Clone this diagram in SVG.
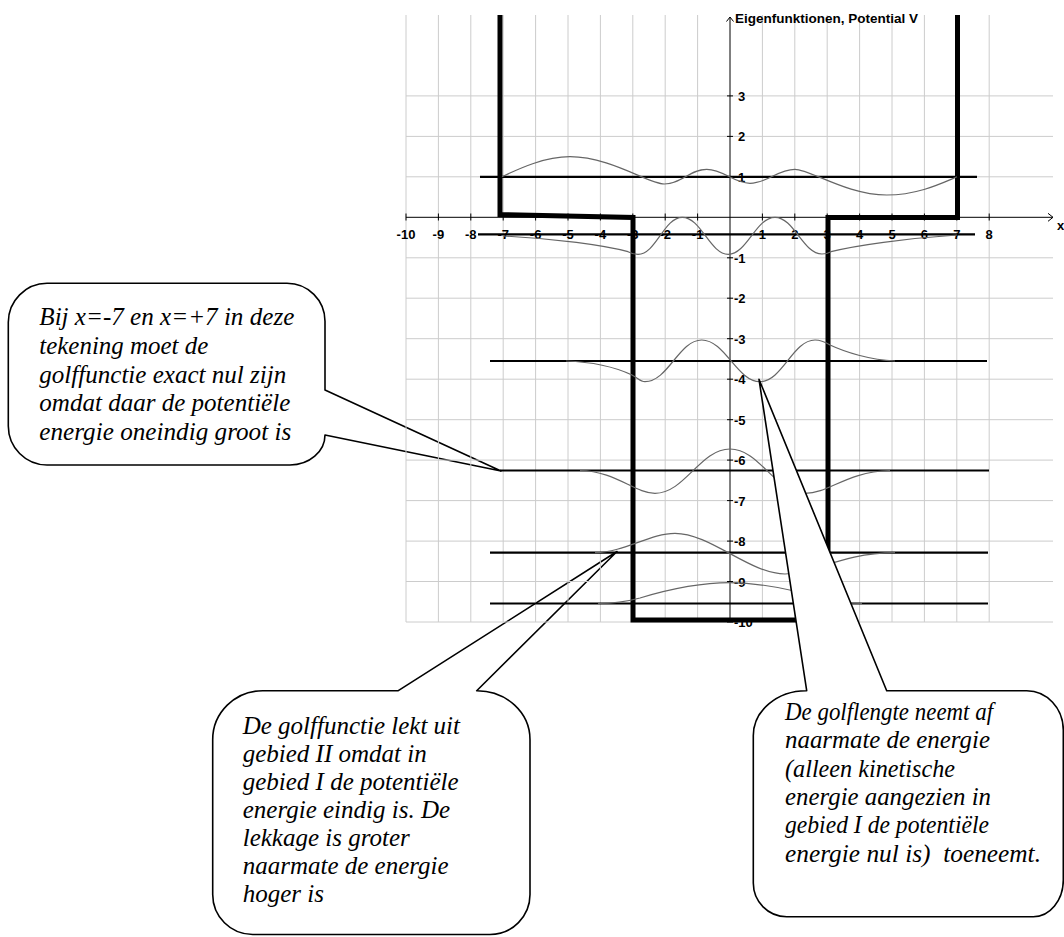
<svg xmlns="http://www.w3.org/2000/svg" width="1064" height="937" viewBox="0 0 1064 937">
<style>
.grid line{stroke:#cccccc;stroke-width:1}
.ax{stroke:#000;stroke-width:1;fill:none}
.num{font-family:"Liberation Sans",Arial,sans-serif;font-weight:bold;font-size:13px;fill:#000}
.xl{text-anchor:middle}
.pot{stroke:#000;stroke-width:5;fill:none;stroke-linejoin:miter}
.lvl{stroke:#000;stroke-width:2.2}
.wf{stroke:#666;stroke-width:1.2;fill:none}
.call{fill:#fff;stroke:#000;stroke-width:1.6;stroke-linejoin:round}
.ct{font-family:"Liberation Serif","Times New Roman",serif;font-style:italic;font-size:25px;fill:#000;white-space:pre}
</style>
<rect width="1064" height="937" fill="#fff"/>

<g id="callout-1">
<path class="call" d="M47 283.3 H287 A38 38 0 0 1 325 321.3 V390 L501 471 L325 435 A35 30 0 0 1 290 465 H47 A39 39 0 0 1 8.3 426 V322.3 A39 39 0 0 1 47 283.3 Z"/>
<text class="ct" x="39.3" y="325" textLength="255" lengthAdjust="spacingAndGlyphs">Bij x=-7 en x=+7 in deze</text>
<text class="ct" x="39.3" y="353.7" textLength="169" lengthAdjust="spacingAndGlyphs">tekening moet de</text>
<text class="ct" x="39.3" y="382.5" textLength="247" lengthAdjust="spacingAndGlyphs">golffunctie exact nul zijn</text>
<text class="ct" x="39.3" y="411.2" textLength="251" lengthAdjust="spacingAndGlyphs">omdat daar de potentiële</text>
<text class="ct" x="39.3" y="440" textLength="252" lengthAdjust="spacingAndGlyphs">energie oneindig groot is</text>
</g>

<g id="callout-2">
<path class="call" d="M212.7 740 A50 49 0 0 1 262.7 690.7 H398.3 L617 551.5 L476.7 690.7 A53 49 0 0 1 530 739.7 V894 A40 40 0 0 1 490 934.5 H252.7 A40 40 0 0 1 212.7 894.5 Z"/>
<text class="ct" x="242.7" y="734.3">De golffunctie lekt uit</text>
<text class="ct" x="242.7" y="762.2">gebied II omdat in</text>
<text class="ct" x="242.7" y="790.1">gebied I de potentiële</text>
<text class="ct" x="242.7" y="818">energie eindig is. De</text>
<text class="ct" x="242.7" y="845.9">lekkage is groter</text>
<text class="ct" x="242.7" y="873.8">naarmate de energie</text>
<text class="ct" x="242.7" y="901.7">hoger is</text>
</g>

<g id="grid" class="grid">
<line x1="406" y1="15" x2="406" y2="622"/>
<line x1="438.4" y1="15" x2="438.4" y2="622"/>
<line x1="470.8" y1="15" x2="470.8" y2="622"/>
<line x1="503.2" y1="15" x2="503.2" y2="622"/>
<line x1="535.6" y1="15" x2="535.6" y2="622"/>
<line x1="568" y1="15" x2="568" y2="622"/>
<line x1="600.4" y1="15" x2="600.4" y2="622"/>
<line x1="632.8" y1="15" x2="632.8" y2="622"/>
<line x1="665.2" y1="15" x2="665.2" y2="622"/>
<line x1="697.6" y1="15" x2="697.6" y2="622"/>
<line x1="762.4" y1="15" x2="762.4" y2="622"/>
<line x1="794.8" y1="15" x2="794.8" y2="622"/>
<line x1="827.2" y1="15" x2="827.2" y2="622"/>
<line x1="859.6" y1="15" x2="859.6" y2="622"/>
<line x1="892" y1="15" x2="892" y2="622"/>
<line x1="924.4" y1="15" x2="924.4" y2="622"/>
<line x1="956.8" y1="15" x2="956.8" y2="622"/>
<line x1="989.2" y1="15" x2="989.2" y2="622"/>
<line x1="406" y1="95.9" x2="1053" y2="95.9"/>
<line x1="406" y1="136.4" x2="1053" y2="136.4"/>
<line x1="406" y1="176.8" x2="1053" y2="176.8"/>
<line x1="406" y1="257.8" x2="1053" y2="257.8"/>
<line x1="406" y1="298.2" x2="1053" y2="298.2"/>
<line x1="406" y1="338.7" x2="1053" y2="338.7"/>
<line x1="406" y1="379.2" x2="1053" y2="379.2"/>
<line x1="406" y1="419.7" x2="1053" y2="419.7"/>
<line x1="406" y1="460.1" x2="1053" y2="460.1"/>
<line x1="406" y1="500.6" x2="1053" y2="500.6"/>
<line x1="406" y1="541.1" x2="1053" y2="541.1"/>
<line x1="406" y1="581.5" x2="1053" y2="581.5"/>
<line x1="406" y1="622" x2="1053" y2="622"/>
</g>

<g id="axes">
<line class="ax" x1="406" y1="217.3" x2="1053" y2="217.3"/>
<polyline class="ax" points="1048,213.3 1053,217.3 1048,221.3"/>
<line class="ax" x1="730" y1="17" x2="730" y2="622"/>
<polyline class="ax" points="726.5,21.5 730,17 733.5,21.5"/>
<path class="ax" d="M406 213.5V220.5M438.4 213.5V220.5M470.8 213.5V220.5M503.2 213.5V220.5M535.6 213.5V220.5M568 213.5V220.5M600.4 213.5V220.5M632.8 213.5V220.5M665.2 213.5V220.5M697.6 213.5V220.5M762.4 213.5V220.5M794.8 213.5V220.5M827.2 213.5V220.5M859.6 213.5V220.5M892 213.5V220.5M924.4 213.5V220.5M956.8 213.5V220.5M989.2 213.5V220.5"/>
<path class="ax" d="M727 95.9H733M727 136.4H733M727 176.8H733M727 257.8H733M727 298.2H733M727 338.7H733M727 379.2H733M727 419.7H733M727 460.1H733M727 500.6H733M727 541.1H733M727 581.5H733M727 622H733"/>
<text class="num" x="735" y="22.5" textLength="183" lengthAdjust="spacingAndGlyphs">Eigenfunktionen, Potential V</text>
<text class="num" x="1057" y="230">x</text>
<g class="num xl">
<text x="406" y="239">-10</text>
<text x="438.4" y="239">-9</text>
<text x="470.8" y="239">-8</text>
<text x="503.2" y="239">-7</text>
<text x="535.6" y="239">-6</text>
<text x="568" y="239">-5</text>
<text x="600.4" y="239">-4</text>
<text x="632.8" y="239">-3</text>
<text x="665.2" y="239">-2</text>
<text x="697.6" y="239">-1</text>
<text x="762.4" y="239">1</text>
<text x="794.8" y="239">2</text>
<text x="827.2" y="239">3</text>
<text x="859.6" y="239">4</text>
<text x="892" y="239">5</text>
<text x="924.4" y="239">6</text>
<text x="956.8" y="239">7</text>
<text x="989.2" y="239">8</text>
</g>
<g class="num">
<text x="738" y="100.9">3</text>
<text x="738" y="141.4">2</text>
<text x="738" y="181.8">1</text>
<text x="734" y="262.8">-1</text>
<text x="734" y="303.2">-2</text>
<text x="734" y="343.7">-3</text>
<text x="734" y="384.2">-4</text>
<text x="734" y="424.7">-5</text>
<text x="734" y="465.1">-6</text>
<text x="734" y="505.6">-7</text>
<text x="734" y="546.1">-8</text>
<text x="734" y="586.5">-9</text>
<text x="734" y="627">-10</text>
</g>
</g>

<g id="potential">
<path class="pot" d="M500 15 V214.5 L633 217.5 V620 H828 V217.5 H957.5 V15"/>
</g>

<g id="energy-levels">
<line class="lvl" x1="480" y1="176.8" x2="977" y2="176.8"/>
<line class="lvl" x1="478" y1="234.3" x2="975" y2="234.3"/>
<line class="lvl" x1="490" y1="361" x2="987" y2="361"/>
<line class="lvl" x1="500" y1="470.5" x2="989" y2="470.5"/>
<line class="lvl" x1="490" y1="552.7" x2="988" y2="552.7"/>
<line class="lvl" x1="490" y1="603.5" x2="988" y2="603.5"/>
</g>

<g id="wavefunctions">
<path class="wf" d="M502 176.8 C520 168 545 156.7 570 156.7 C610 156.7 649 184 664.3 184 C681 184 690 169.3 706.7 169.3 C724 169.3 733 183.3 750 183.3 C768 183.3 777 169.3 795 169.3 C810 169.3 847 195 886.7 195 C917 195 940 184 957 176.8"/>
<path class="wf" d="M503 236 C555 238.5 605 245.5 628 251.7 Q633 254.3 638 254.3 C656 254.3 664 217.3 682.3 217.3 C701 217.3 710 254.3 728.3 254.3 C747 254.3 756 217.3 775 217.3 C794 217.3 803 254 822 254 Q827 254 831 251.7 C855 245.5 905 238.5 957 235"/>
<path class="wf" d="M566 361 C595 362 615 367 632 375 C638 378 640 381.7 645 381.7 C668 381.7 679 340 701.7 340 C725 340 737 381.7 760 381.7 C782 381.7 793 340 815 340 C821 340 825 342 830 345 C845 352 870 360 895 361"/>
<path class="wf" d="M580 470.5 C615 471 635 493.3 655 493.3 C685 493.3 700 449 730 449 C760 449 775 493.3 805 493.3 C830 493.3 845 472 890 470.5"/>
<path class="wf" d="M595 552.7 C625 552 650 533.3 675 533.3 C710 533.3 750 574 785 574 C815 574 840 553 895 552.7"/>
<path class="wf" d="M598 603.5 C615 603.5 627 601.5 640 598 C670 589 700 582.7 730 582.7 C760 582.7 790 589 820 598 C833 601.5 845 603.5 862 603.5"/>
</g>

<g id="callout-3">
<path class="call" d="M753.3 736 A53 45 0 0 1 806.7 690.7 L759 379.3 L886.7 690.7 H1026.7 A36.6 39.3 0 0 1 1063.3 730 V880 A30 36.7 0 0 1 1033.3 916.7 H786.7 A33.4 33.7 0 0 1 753.3 883 Z"/>
<text class="ct" x="785" y="720" textLength="208" lengthAdjust="spacingAndGlyphs">De golflengte neemt af</text>
<text class="ct" x="785" y="748.3" textLength="205" lengthAdjust="spacingAndGlyphs">naarmate de energie</text>
<text class="ct" x="785" y="776.6" textLength="170" lengthAdjust="spacingAndGlyphs">(alleen kinetische</text>
<text class="ct" x="785" y="804.9" textLength="206" lengthAdjust="spacingAndGlyphs">energie aangezien in</text>
<text class="ct" x="785" y="833.2" textLength="204" lengthAdjust="spacingAndGlyphs">gebied I de potentiële</text>
<text class="ct" x="785" y="861.5" textLength="256" lengthAdjust="spacingAndGlyphs">energie nul is)  toeneemt.</text>
</g>
</svg>
